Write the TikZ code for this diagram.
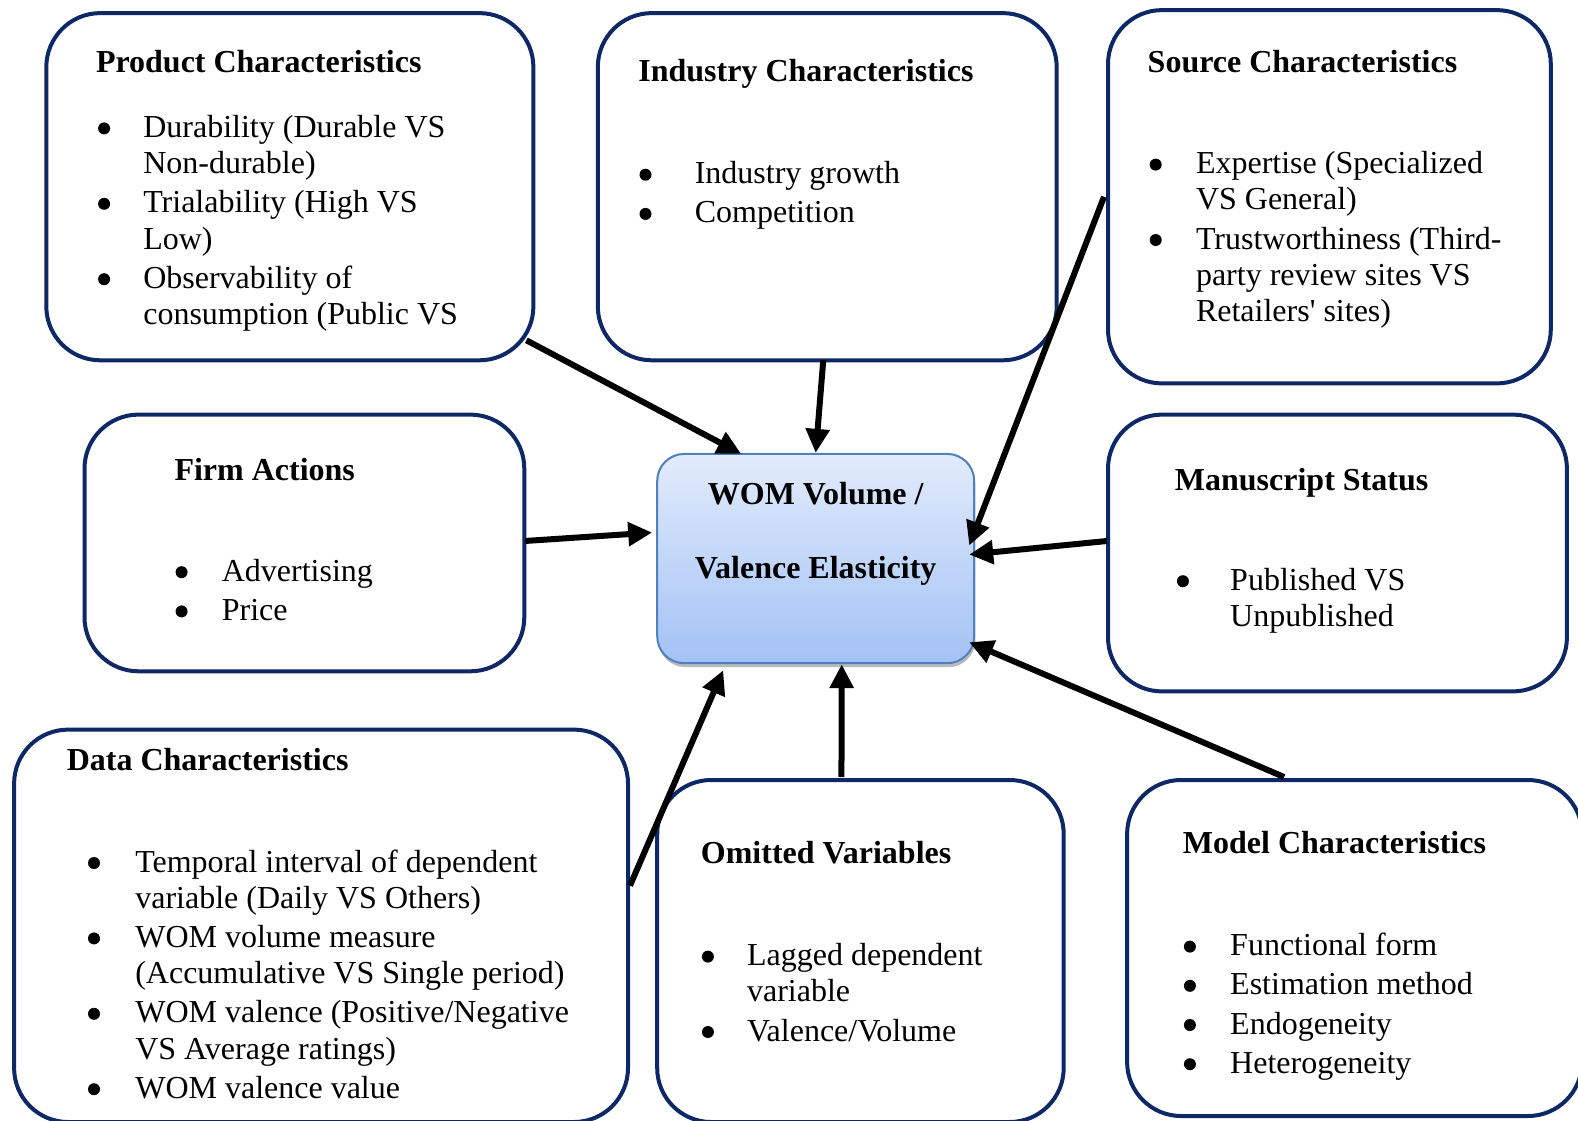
\documentclass[tikz,border=0pt]{standalone}
\usepackage{fontspec}
\setmainfont{Liberation Serif}
\newfontfamily\plainserif[Ligatures=TeXOff]{Liberation Serif}
\usetikzlibrary{calc,fit,shadows,arrows.meta}
\definecolor{navy}{RGB}{14,40,102}
\definecolor{cborder}{RGB}{79,129,189}
\definecolor{ctop}{RGB}{226,235,252}
\definecolor{cbot}{RGB}{163,194,245}
\newlength\bgap
\newcommand\bdot{\tikz[baseline=0pt]\fill[black] (3pt,4.5pt) circle[radius=3pt];}
\newcommand\bitem[1]{\par\noindent\llap{\bdot\hspace{\bgap}}#1}
\newcommand\blist[2]{\parbox[t]{330pt}{\raggedright\setlength\bgap{#1}\fontsize{16}{18.1}\selectfont\setlength\parskip{1.5pt}#2}}
\begin{document}
\begin{tikzpicture}[x=0.5pt,y=-0.5pt,
  box/.style={draw=navy, line width=2pt, rounded corners=27pt, inner sep=0pt},
  cbox/.style={draw=cborder, line width=1pt, rounded corners=13.5pt, inner sep=0pt,
    top color=ctop, bottom color=cbot,
    drop shadow={shadow xshift=0.6pt, shadow yshift=-2pt, fill=black!45, opacity=0.6}},
  ttl/.style={font=\fontsize{16}{18}\selectfont\bfseries, inner sep=0pt, anchor=base west},
  ctext/.style={font=\fontsize{16}{18}\selectfont\bfseries, inner sep=0pt, anchor=base},
  lst/.style={inner sep=0pt, anchor=base west},
  arr/.style={draw=black, line width=3pt, -{Triangle[length=12pt,width=11.5pt]}}]
\useasboundingbox (0,0) rectangle (1578,1120);
\fill[white] (0,0) rectangle (1578,1120);
\clip (0,0) rectangle (1578,1120);

% boxes
\node[box, fit={(46.3,13.1) (533.4,360.3)}] (p) {};
\node[box, fit={(597.8,13.1) (1056.7,360.3)}] (i) {};
\node[box, fit={(1108,10.1) (1550.8,383.4)}] (s) {};
\node[box, fit={(84.5,414.6) (524.3,671.3)}] (f) {};
\node[box, fit={(1108,414.6) (1566.9,691.4)}] (m) {};
\node[box, fit={(14.1,729.6) (628,1122)}] (d) {};
\node[box, fit={(657.2,780) (1063.7,1122)}] (o) {};
\node[box, fit={(1127.1,780) (1582,1116)}] (md) {};
\node[cbox, fit={(657.2,453.9) (974.2,663.2)}] (c) {};

% centre text
\node[ctext] (c1) at (815.7,504.2) {WOM Volume /};
\node[ctext] (c2) at (815.7,578.7) {Valence Elasticity};

% titles
\node[ttl] (pt) at (95.6,72.4) {Product Characteristics};
\node[ttl] (it) at (638,81.5) {Industry Characteristics};
\node[ttl] (st) at (1147.3,72.4) {Source Characteristics};
\node[ttl] (ft) at (174.1,480) {Firm Actions};
\node[ttl] (mt) at (1174.5,490.1) {Manuscript Status};
\node[ttl] (dt) at (66.4,770.9) {Data Characteristics};
\node[ttl] (ot) at (700.5,863.5) {Omitted Variables};
\node[ttl] (mdt) at (1182.5,853.4) {Model Characteristics};

% lists
\node[lst] (pl) at (142.9,137.4) {\blist{16.6pt}{%
  \bitem{Durability (Durable VS\newline Non-durable)}%
  \bitem{Trialability (High VS\newline Low)}%
  \bitem{Observability of\newline consumption (Public VS}}};
\node[lst] (il) at (694.4,183.7) {\blist{21.65pt}{%
  \bitem{Industry growth}%
  \bitem{Competition}}};
\node[lst] (sl) at (1195.6,173.6) {\blist{17.15pt}{%
  \bitem{Expertise (Specialized\newline VS General)}%
  \bitem{Trustworthiness (Third-\newline party review sites VS\newline Retailers{\plainserif'} sites)}}};
\node[lst] (fl) at (221.4,581.2) {\blist{17.1pt}{%
  \bitem{Advertising}%
  \bitem{Price}}};
\node[lst] (ml) at (1229.8,590.2) {\blist{20.65pt}{%
  \bitem{Published VS\newline Unpublished}}};
\node[lst] (dl) at (134.9,872) {\blist{17.65pt}{%
  \bitem{Temporal interval of dependent\newline variable (Daily VS Others)}%
  \bitem{WOM volume measure\newline (Accumulative VS Single period)}%
  \bitem{WOM valence (Positive/Negative\newline VS Average ratings)}%
  \bitem{WOM valence value}}};
\node[lst] (ol) at (746.7,965.6) {\blist{16.6pt}{%
  \bitem{Lagged dependent\newline variable}%
  \bitem{Valence/Volume}}};
\node[lst] (mdl) at (1229.8,955.6) {\blist{17.15pt}{%
  \bitem{Functional form}%
  \bitem{Estimation method}%
  \bitem{Endogeneity}%
  \bitem{Heterogeneity}}};

% arrows
\draw[arr] ($(p.south east)+(-9,-22)$) -- ($(c.north west)+(85,1)$);
\draw[arr] ($(i.south)+(-4,-2)$) -- (c.north);
\draw[arr] ($(s.west)+(-2,0)$) -- ($(c.east)+(-6,-13)$);
\draw[arr] ($(f.east)+(-1,-2)$) -- ($(c.west)+(-4,-26)$);
\draw[arr] ($(m.west)+(1,-12)$) -- ($(c.east)+(-6,-4)$);
\draw[arr] ($(d.north east)+(0,158)$) -- ($(c.south west)+(67,6)$);
\draw[arr] ($(o.north)+(-19,-1)$) -- ($(c.south)+(26,0)$);
\draw[arr] ($(md.north west)+(159,-1)$) -- ($(c.south east)+(-6,-22)$);
\end{tikzpicture}
\end{document}
